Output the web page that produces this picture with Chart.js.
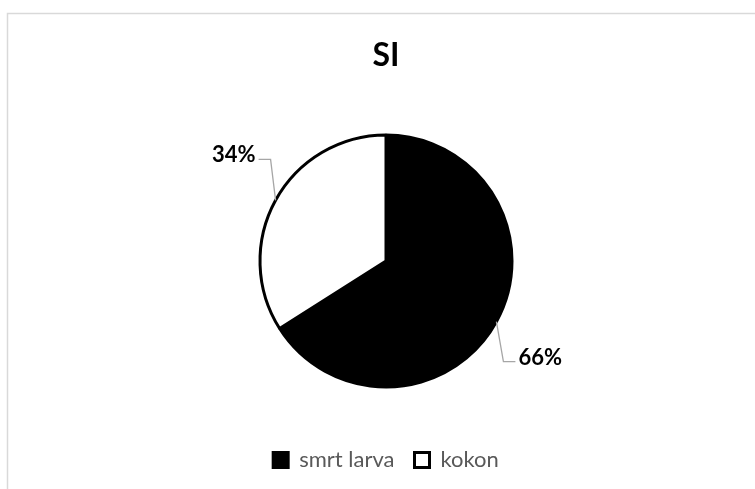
<!DOCTYPE html>
<html>
<head>
<meta charset="utf-8">
<script src="https://cdn.jsdelivr.net/npm/chart.js@4"></script>
<style>
    html, body { margin: 0; padding: 0; background: #fff; }
    #wrap { width: 755px; height: 489px; position: relative; }
</style>
</head>
<body>
<div id="wrap"><canvas id="pieSI"></canvas></div>
<script>
/* --- Dati --- */
const chartTitle = 'SI';
const categories = ['smrt larva', 'kokon'];
const shares = [66, 34];
const sliceColors = ['#000000', '#ffffff'];

/* --- Cornice grigia (tagliata a destra e in basso come nell'originale) --- */
const frame = {
    id: 'frame',
    beforeDraw(chart) {
        const ctx = chart.ctx;
        ctx.save();
        ctx.strokeStyle = '#d9d9d9';
        ctx.lineWidth = 1.5;
        ctx.strokeRect(7.5, 13.5, chart.width + 10, chart.height + 10);
        ctx.restore();
    }
};

/* --- Etichette percentuali con linee guida --- */
const leaderLabels = {
    id: 'leaderLabels',
    afterDatasetsDraw(chart) {
        const ctx = chart.ctx;
        const total = shares.reduce((a, b) => a + b, 0);
        chart.getDatasetMeta(0).data.forEach((arc, i) => {
            const { x, y, startAngle, endAngle, outerRadius } =
                arc.getProps(['x', 'y', 'startAngle', 'endAngle', 'outerRadius'], true);
            const mid = (startAngle + endAngle) / 2;
            const ex = x + Math.cos(mid) * outerRadius;
            const ey = y + Math.sin(mid) * outerRadius;
            const right = Math.cos(mid) >= 0;
            const down = Math.sin(mid) >= 0;
            const kx = ex + (right ? 7 : -5);
            const ky = ey + (down ? 40 : -41);
            const lx = kx + (right ? 12 : -12);

            ctx.save();
            ctx.strokeStyle = '#a6a6a6';
            ctx.lineWidth = 1.3;
            ctx.beginPath();
            ctx.moveTo(ex, ey);
            ctx.lineTo(kx, ky);
            ctx.lineTo(lx, ky);
            ctx.stroke();

            ctx.font = 'bold 22px Lato';
            ctx.fillStyle = '#000';
            ctx.textBaseline = 'alphabetic';
            ctx.textAlign = right ? 'left' : 'right';
            ctx.fillText(Math.round(shares[i] / total * 100) + '%', lx + (right ? 3 : -3), ky + 3);
            ctx.restore();
        });
    }
};

const ctx = document.getElementById('pieSI').getContext('2d');
new Chart(ctx, {
    type: 'pie',
    data: {
        labels: categories,
        datasets: [{
            data: shares,
            backgroundColor: sliceColors,
            borderColor: '#000000',
            borderWidth: 3,
            radius: 126
        }]
    },
    options: {
        responsive: true,
        maintainAspectRatio: false,
        animation: false,
        layout: { padding: { top: 36, left: 17, right: 0, bottom: 8 } },
        plugins: {
            title: {
                display: true,
                text: chartTitle,
                color: '#000',
                font: { family: 'Lato', size: 32, weight: 'bold' },
                padding: { top: 0, bottom: 18.6 }
            },
            legend: {
                position: 'bottom',
                labels: {
                    boxWidth: 15,
                    boxHeight: 15,
                    color: '#595959',
                    font: { family: 'Lato', size: 22 },
                    padding: 20
                }
            },
            tooltip: { enabled: false }
        }
    },
    plugins: [frame, leaderLabels]
});
</script>
</body>
</html>
